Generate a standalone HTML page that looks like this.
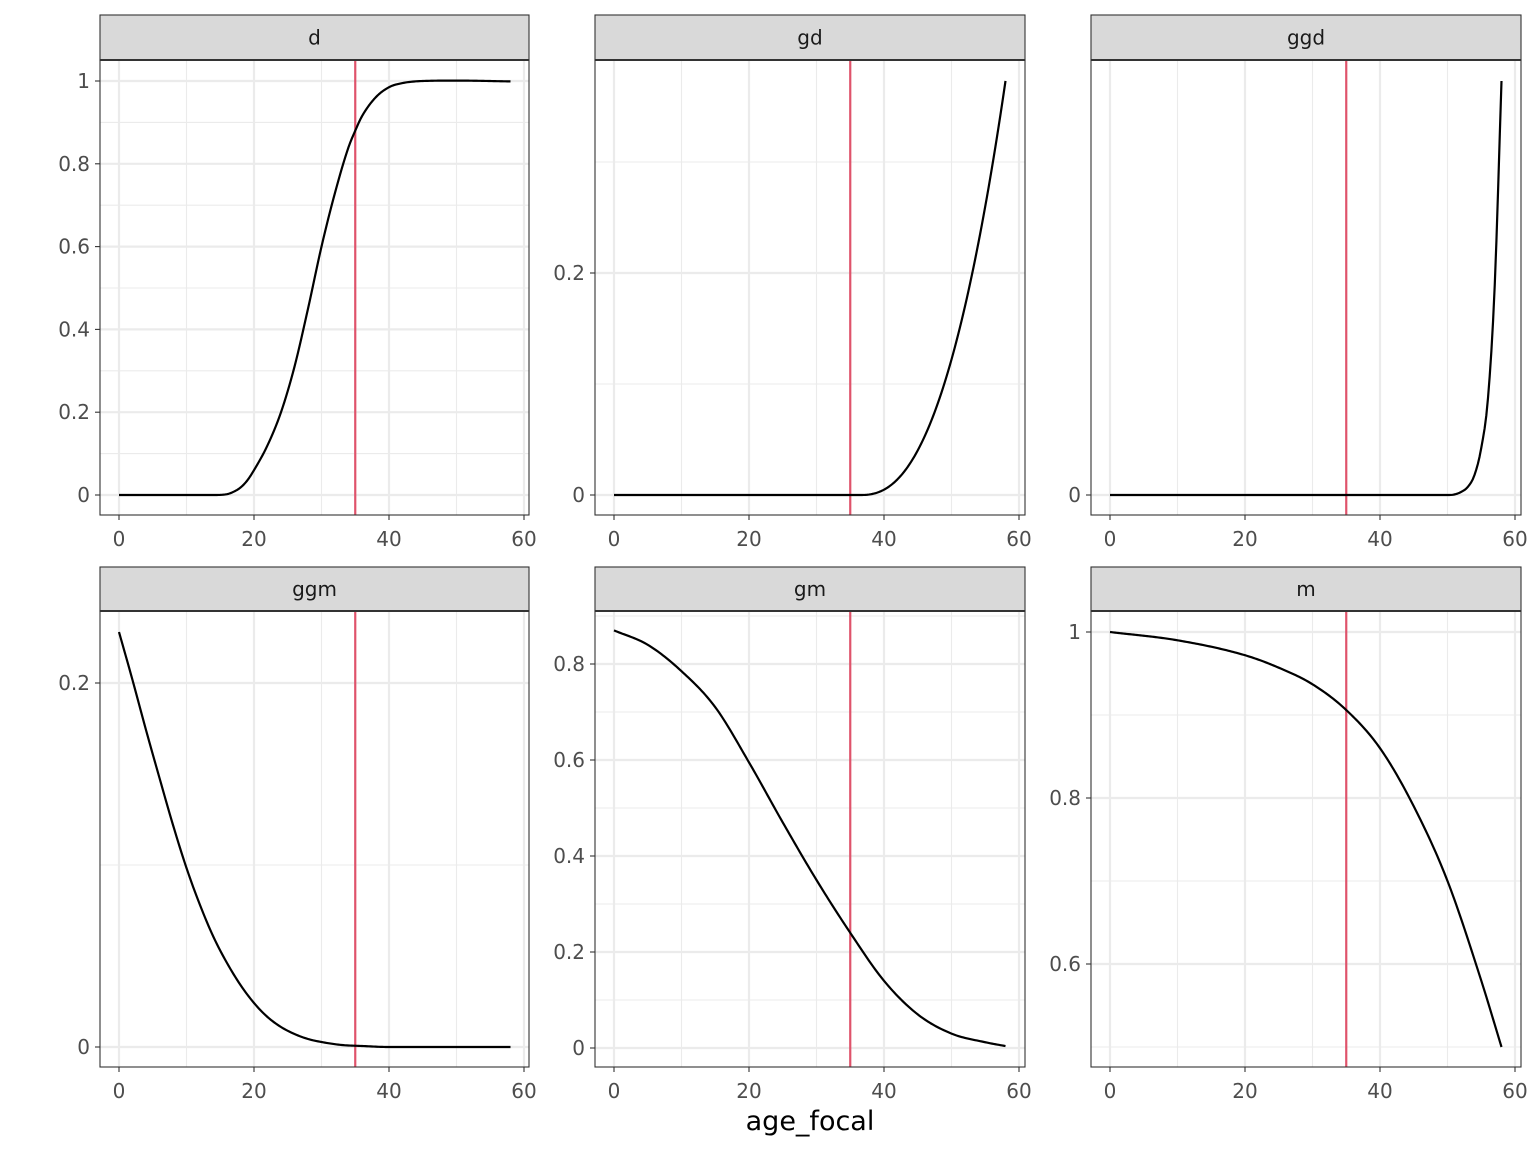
<!DOCTYPE html>
<html><head><style>body{margin:0;background:#fff}svg{display:block}text{font-family:"DejaVu Sans","Liberation Sans",sans-serif}</style></head>
<body>
<svg id="s" width="1536" height="1152" xmlns="http://www.w3.org/2000/svg"></svg>
<script>
const S=document.getElementById('s');let h='';
function mono(P){
 const n=P.length,xs=P.map(a=>a[0]),ys=P.map(a=>a[1]),d=[],m=[];
 for(let i=0;i<n-1;i++)d.push((ys[i+1]-ys[i])/(xs[i+1]-xs[i]));
 m[0]=d[0];m[n-1]=d[n-2];
 for(let i=1;i<n-1;i++)m[i]=(d[i-1]*d[i]<=0)?0:(d[i-1]+d[i])/2;
 for(let i=0;i<n-1;i++){if(d[i]===0){m[i]=0;m[i+1]=0;continue;}const a=m[i]/d[i],b=m[i+1]/d[i],s=a*a+b*b;if(s>9){const t=3/Math.sqrt(s);m[i]=t*a*d[i];m[i+1]=t*b*d[i];}}
 return x=>{let i=0;while(i<n-2&&x>xs[i+1])i++;const hh=xs[i+1]-xs[i],t=(x-xs[i])/hh,t2=t*t,t3=t2*t;
  return (2*t3-3*t2+1)*ys[i]+(t3-2*t2+t)*hh*m[i]+(-2*t3+3*t2)*ys[i+1]+(t3-t2)*hh*m[i+1];};
}
const panels=[
 {n:'d',x0:100,x1:529,y0:60,y1:515,sy0:15,xz:119,yv:[0,495,1,81],maj:[0,.2,.4,.6,.8,1],lab:['0','0.2','0.4','0.6','0.8','1'],min:[.1,.3,.5,.7,.9],
  pts:[[0,0],[14,0],[16,.002],[17,.008],[18,.018],[19,.035],[20,.06],[22,.12],[24,.2],[26,.31],[28,.45],[30,.6],[32,.73],[34,.84],[35,.88],[36,.915],[38,.96],[40,.985],[42,.995],[45,1],[50,1.001],[58,.999]]},
 {n:'gd',x0:595,x1:1025,y0:60,y1:515,sy0:15,xz:614,yv:[0,495,.2,273],maj:[0,.2],lab:['0','0.2'],min:[.1,.3],f:x=>x<36.5?0:.373*Math.pow((x-36.5)/21.5,2.4)},
 {n:'ggd',x0:1091,x1:1521,y0:60,y1:515,sy0:15,xz:1110,yv:[0,495,1,81],maj:[0],lab:['0'],min:[],
  pts:[[0,495],[50,495],[51,494.5],[52,492],[53,487],[54,475],[55,448],[56,398],[57,285],[58,81]],pix:1},
 {n:'ggm',x0:100,x1:529,y0:611,y1:1067,sy0:567,xz:119,yv:[0,1047,.2,683],maj:[0,.2],lab:['0','0.2'],min:[.1],
  pts:[[0,632],[2,680],[4,730],[6,778],[8,825],[10,868],[12,905],[14,937],[16,963],[18,985],[20,1003],[22,1017],[24,1027],[26,1034],[28,1039],[30,1042],[33,1045],[36,1046],[40,1047],[58,1047]],pix:1},
 {n:'gm',x0:595,x1:1025,y0:611,y1:1067,sy0:567,xz:614,yv:[0,1048,.2,952],maj:[0,.2,.4,.6,.8],lab:['0','0.2','0.4','0.6','0.8'],min:[.1,.3,.5,.7,.9],
  pts:[[0,.87],[5,.84],[10,.785],[15,.71],[20,.595],[25,.47],[30,.35],[35,.24],[40,.14],[45,.07],[50,.03],[55,.012],[58,.004]]},
 {n:'m',x0:1091,x1:1521,y0:611,y1:1067,sy0:567,xz:1110,yv:[1,632,.8,798],maj:[.6,.8,1],lab:['0.6','0.8','1'],min:[.5,.7,.9],
  pts:[[0,1],[10,.99],[20,.972],[25,.957],[30,.937],[35,.906],[40,.86],[45,.79],[50,.7],[55,.58],[58,.5]]}
];
for(const p of panels){
 const X=v=>p.xz+v*6.75;
 const Y=v=>p.yv[1]+(v-p.yv[0])*(p.yv[3]-p.yv[1])/(p.yv[2]-p.yv[0]);
 h+=`<svg x="${p.x0}" y="${p.y0}" width="${p.x1-p.x0}" height="${p.y1-p.y0}" overflow="hidden"><g transform="translate(${-p.x0},${-p.y0})">`;
 for(const v of p.min)h+=`<line x1="${p.x0}" x2="${p.x1}" y1="${Y(v)}" y2="${Y(v)}" stroke="#ebebeb" stroke-width="1.1"/>`;
 for(const v of [10,30,50])h+=`<line x1="${X(v)}" x2="${X(v)}" y1="${p.y0}" y2="${p.y1}" stroke="#ebebeb" stroke-width="1.1"/>`;
 for(const v of p.maj)h+=`<line x1="${p.x0}" x2="${p.x1}" y1="${Y(v)}" y2="${Y(v)}" stroke="#ebebeb" stroke-width="2.2"/>`;
 for(const v of [0,20,40,60])h+=`<line x1="${X(v)}" x2="${X(v)}" y1="${p.y0}" y2="${p.y1}" stroke="#ebebeb" stroke-width="2.2"/>`;
 let g;
 if(p.f)g=x=>Y(p.f(x));
 else if(p.pix){g=mono(p.pts);}
 else {const s=mono(p.pts);g=x=>Y(s(x));}
 let d='';
 for(let x=0;x<=58.0001;x+=0.25)d+=(d?'L':'M')+X(x).toFixed(2)+','+g(x).toFixed(2);
 h+=`<line x1="${X(35)}" x2="${X(35)}" y1="${p.y0}" y2="${p.y1}" stroke="#df536b" stroke-width="2.2"/>`;
 h+=`<path d="${d}" fill="none" stroke="#000" stroke-width="2.2" stroke-linejoin="round"/>`;
 h+=`</g></svg>`;
 h+=`<rect x="${p.x0}" y="${p.y0}" width="${p.x1-p.x0}" height="${p.y1-p.y0}" fill="none" stroke="#333" stroke-width="1.1"/>`;
 h+=`<rect x="${p.x0}" y="${p.sy0}" width="${p.x1-p.x0}" height="${p.y0-p.sy0}" fill="#d9d9d9" stroke="#333" stroke-width="1.1"/>`;
 h+=`<line x1="${p.x0}" x2="${p.x1}" y1="${p.y0}" y2="${p.y0}" stroke="#333" stroke-width="2"/>`;
 h+=`<text x="${(p.x0+p.x1)/2}" y="${(p.sy0+p.y0)/2+7}" font-size="20" fill="#1a1a1a" text-anchor="middle">${p.n}</text>`;
 p.maj.forEach((v,i)=>{h+=`<line x1="${p.x0-5}" x2="${p.x0}" y1="${Y(v)}" y2="${Y(v)}" stroke="#333" stroke-width="1.1"/><text x="${p.x0-10}" y="${Y(v)+7}" font-size="20" fill="#4d4d4d" text-anchor="end">${p.lab[i]}</text>`;});
 for(const v of [0,20,40,60])h+=`<line x1="${X(v)}" x2="${X(v)}" y1="${p.y1}" y2="${p.y1+5}" stroke="#333" stroke-width="1.1"/><text x="${X(v)}" y="${p.y1+31}" font-size="20" fill="#4d4d4d" text-anchor="middle">${v}</text>`;
}
h+=`<text x="810" y="1130" font-size="27" fill="#000" text-anchor="middle">age_focal</text>`;
S.innerHTML=h;
</script>
</body></html>
